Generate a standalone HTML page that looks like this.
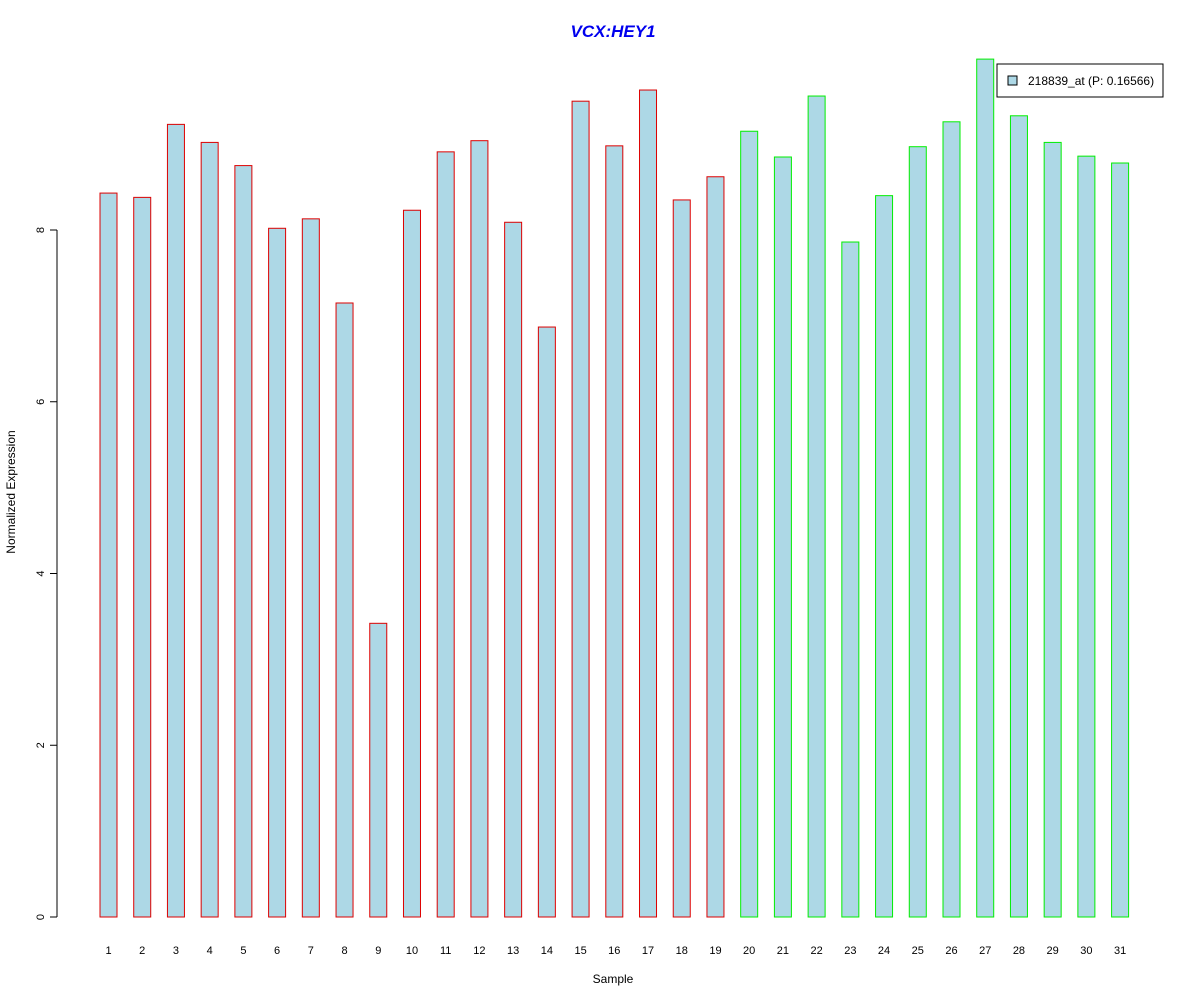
<!DOCTYPE html>
<html><head><meta charset="utf-8"><style>
body{margin:0;background:#fff}
svg{font-family:"Liberation Sans",Arial,sans-serif}
</style></head><body>
<svg id="chart" width="1200" height="1000" xmlns="http://www.w3.org/2000/svg">
<rect width="1200" height="1000" fill="#fff"/>
<text x="613" y="37" text-anchor="middle" font-size="17" font-weight="bold" font-style="italic" fill="#0000ee">VCX:HEY1</text>
<text x="613" y="983" text-anchor="middle" font-size="12">Sample</text>
<text transform="translate(15,492) rotate(-90)" text-anchor="middle" font-size="12">Normalized Expression</text>
<g id="bars"></g>
<g id="axis"></g>
<g>
<rect x="997" y="64" width="166" height="33" fill="#fff" stroke="#000"/>
<rect x="1008" y="76" width="9" height="9" fill="#add8e6" stroke="#000"/>
<text x="1028" y="85" font-size="12">218839_at (P: 0.16566)</text>
</g>
</svg>
<script>
const categories=["1","2","3","4","5","6","7","8","9","10","11","12","13","14","15","16","17","18","19","20","21","22","23","24","25","26","27","28","29","30","31"];
const values=[8.43,8.38,9.23,9.02,8.75,8.02,8.13,7.15,3.42,8.23,8.91,9.04,8.09,6.87,9.50,8.98,9.63,8.35,8.62,9.15,8.85,9.56,7.86,8.40,8.97,9.26,9.99,9.33,9.02,8.86,8.78];
const groups=["a","a","a","a","a","a","a","a","a","a","a","a","a","a","a","a","a","a","a","b","b","b","b","b","b","b","b","b","b","b","b"];
const yTicks=[0,2,4,6,8];
const NS="http://www.w3.org/2000/svg";
const y=v=>917-v*85.875;
const x=i=>108.5+i*33.72;
const bars=document.getElementById('bars');
values.forEach((v,i)=>{
  const r=document.createElementNS(NS,'rect');
  
  
  r.setAttribute('x',x(i)-8.5);r.setAttribute('width',17);
  r.setAttribute('y',y(v));r.setAttribute('height',y(0)-y(v));
  r.setAttribute('fill','#add8e6');
  r.setAttribute('stroke',groups[i]==='a'?'#dd0000':'#00ee00');
  bars.appendChild(r);
  const t=document.createElementNS(NS,'text');
  
  
  t.setAttribute('x',x(i));t.setAttribute('y',954);
  t.setAttribute('text-anchor','middle');t.setAttribute('font-size','11');
  t.textContent=categories[i];bars.appendChild(t);
});
const ax=document.getElementById('axis');
const l=document.createElementNS(NS,'line');


l.setAttribute('x1',57);l.setAttribute('x2',57);l.setAttribute('y1',y(8));l.setAttribute('y2',y(0));l.setAttribute('stroke','#000');
ax.appendChild(l);
yTicks.forEach(v=>{
  const tk=document.createElementNS(NS,'line');
  
  
  tk.setAttribute('x1',50);tk.setAttribute('x2',57);tk.setAttribute('y1',y(v));tk.setAttribute('y2',y(v));tk.setAttribute('stroke','#000');
  ax.appendChild(tk);
  const t=document.createElementNS(NS,'text');
  
  
  t.setAttribute('transform','translate(44,'+y(v)+') rotate(-90)');
  t.setAttribute('text-anchor','middle');t.setAttribute('font-size','11');
  t.textContent=v;ax.appendChild(t);
});
</script>
</body></html>
